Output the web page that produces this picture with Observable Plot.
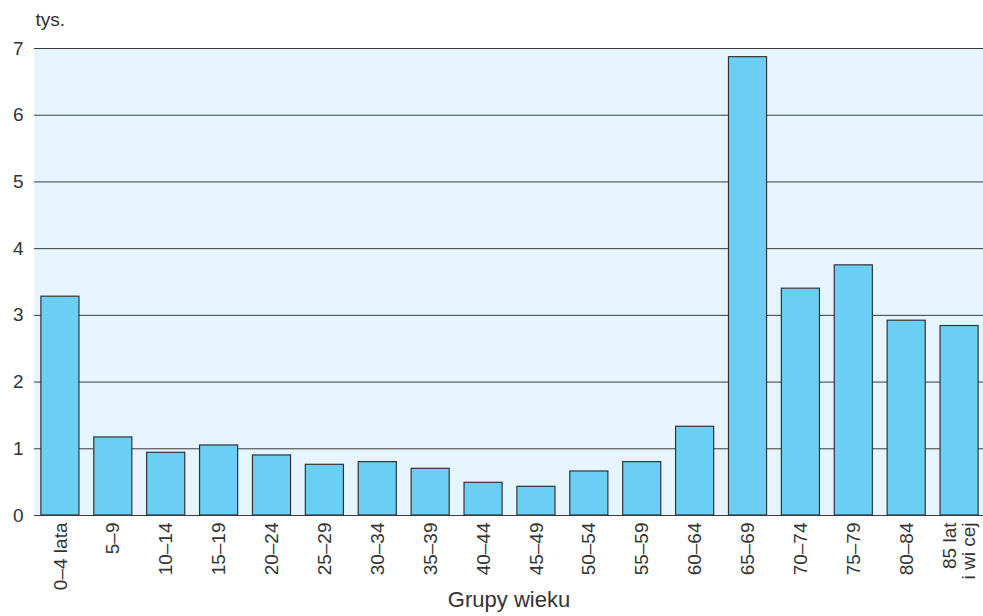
<!DOCTYPE html>
<html>
<head>
<meta charset="utf-8">
<script src="https://cdn.jsdelivr.net/npm/d3@7"></script>
<script src="https://cdn.jsdelivr.net/npm/@observablehq/plot@0.6"></script>
<style>
  html, body { margin: 0; padding: 0; background: #fff; }
  #chart svg { display: block; }
</style>
</head>
<body>
<div id="chart"></div>
<script>
const categories = ["0–4 lata", "5–9", "10–14", "15–19", "20–24", "25–29", "30–34", "35–39", "40–44", "45–49", "50–54", "55–59", "60–64", "65–69", "70–74", "75–79", "80–84", "85 lat\ni wi cej"];
const values = [3.28, 1.17, 0.94, 1.05, 0.90, 0.76, 0.80, 0.70, 0.49, 0.43, 0.66, 0.80, 1.33, 6.87, 3.40, 3.75, 2.92, 2.84];
const yTicks = [0, 1, 2, 3, 4, 5, 6, 7];
const yLabel = "tys.";
const xLabel = "Grupy wieku";

const data = categories.map((c, i) => ({ group: c, value: values[i] }));

const chart = Plot.plot({
  width: 983,
  height: 616,
  marginTop: 48,
  marginBottom: 101,
  marginLeft: 34,
  marginRight: 0,
  style: { fontFamily: "Liberation Sans, Arial, sans-serif", fontSize: "19px", color: "#333", background: "#fff" },
  x: { domain: categories, range: [34, 985], paddingInner: 0.28, paddingOuter: 0.13, round: false },
  y: { domain: [0, 7] },
  marks: [
    Plot.frame({ fill: "#e6f5fd", stroke: null }),
    Plot.ruleY(yTicks, { stroke: "#3a3a3a", strokeWidth: 1 }),
    Plot.barY(data, { x: "group", y: "value", fill: "#6bcff5", stroke: "#333", strokeWidth: 1.2 }),
    Plot.axisY(yTicks, { tickSize: 0, tickPadding: 11, fontSize: 19, label: null, tickFormat: d3.format("d") }),
    Plot.axisX({ tickSize: 0, tickPadding: 7, tickRotate: -90, fontSize: 19, label: null }),
    Plot.text([yLabel], { frameAnchor: "top-left", dx: 1, dy: -36, text: d => d, textAnchor: "start", fontSize: 19, fill: "#333" }),
    Plot.text([xLabel], { frameAnchor: "bottom", dy: 91, text: d => d, fontSize: 22, fill: "#333" })
  ]
});
document.getElementById("chart").append(chart);
</script>
</body>
</html>
